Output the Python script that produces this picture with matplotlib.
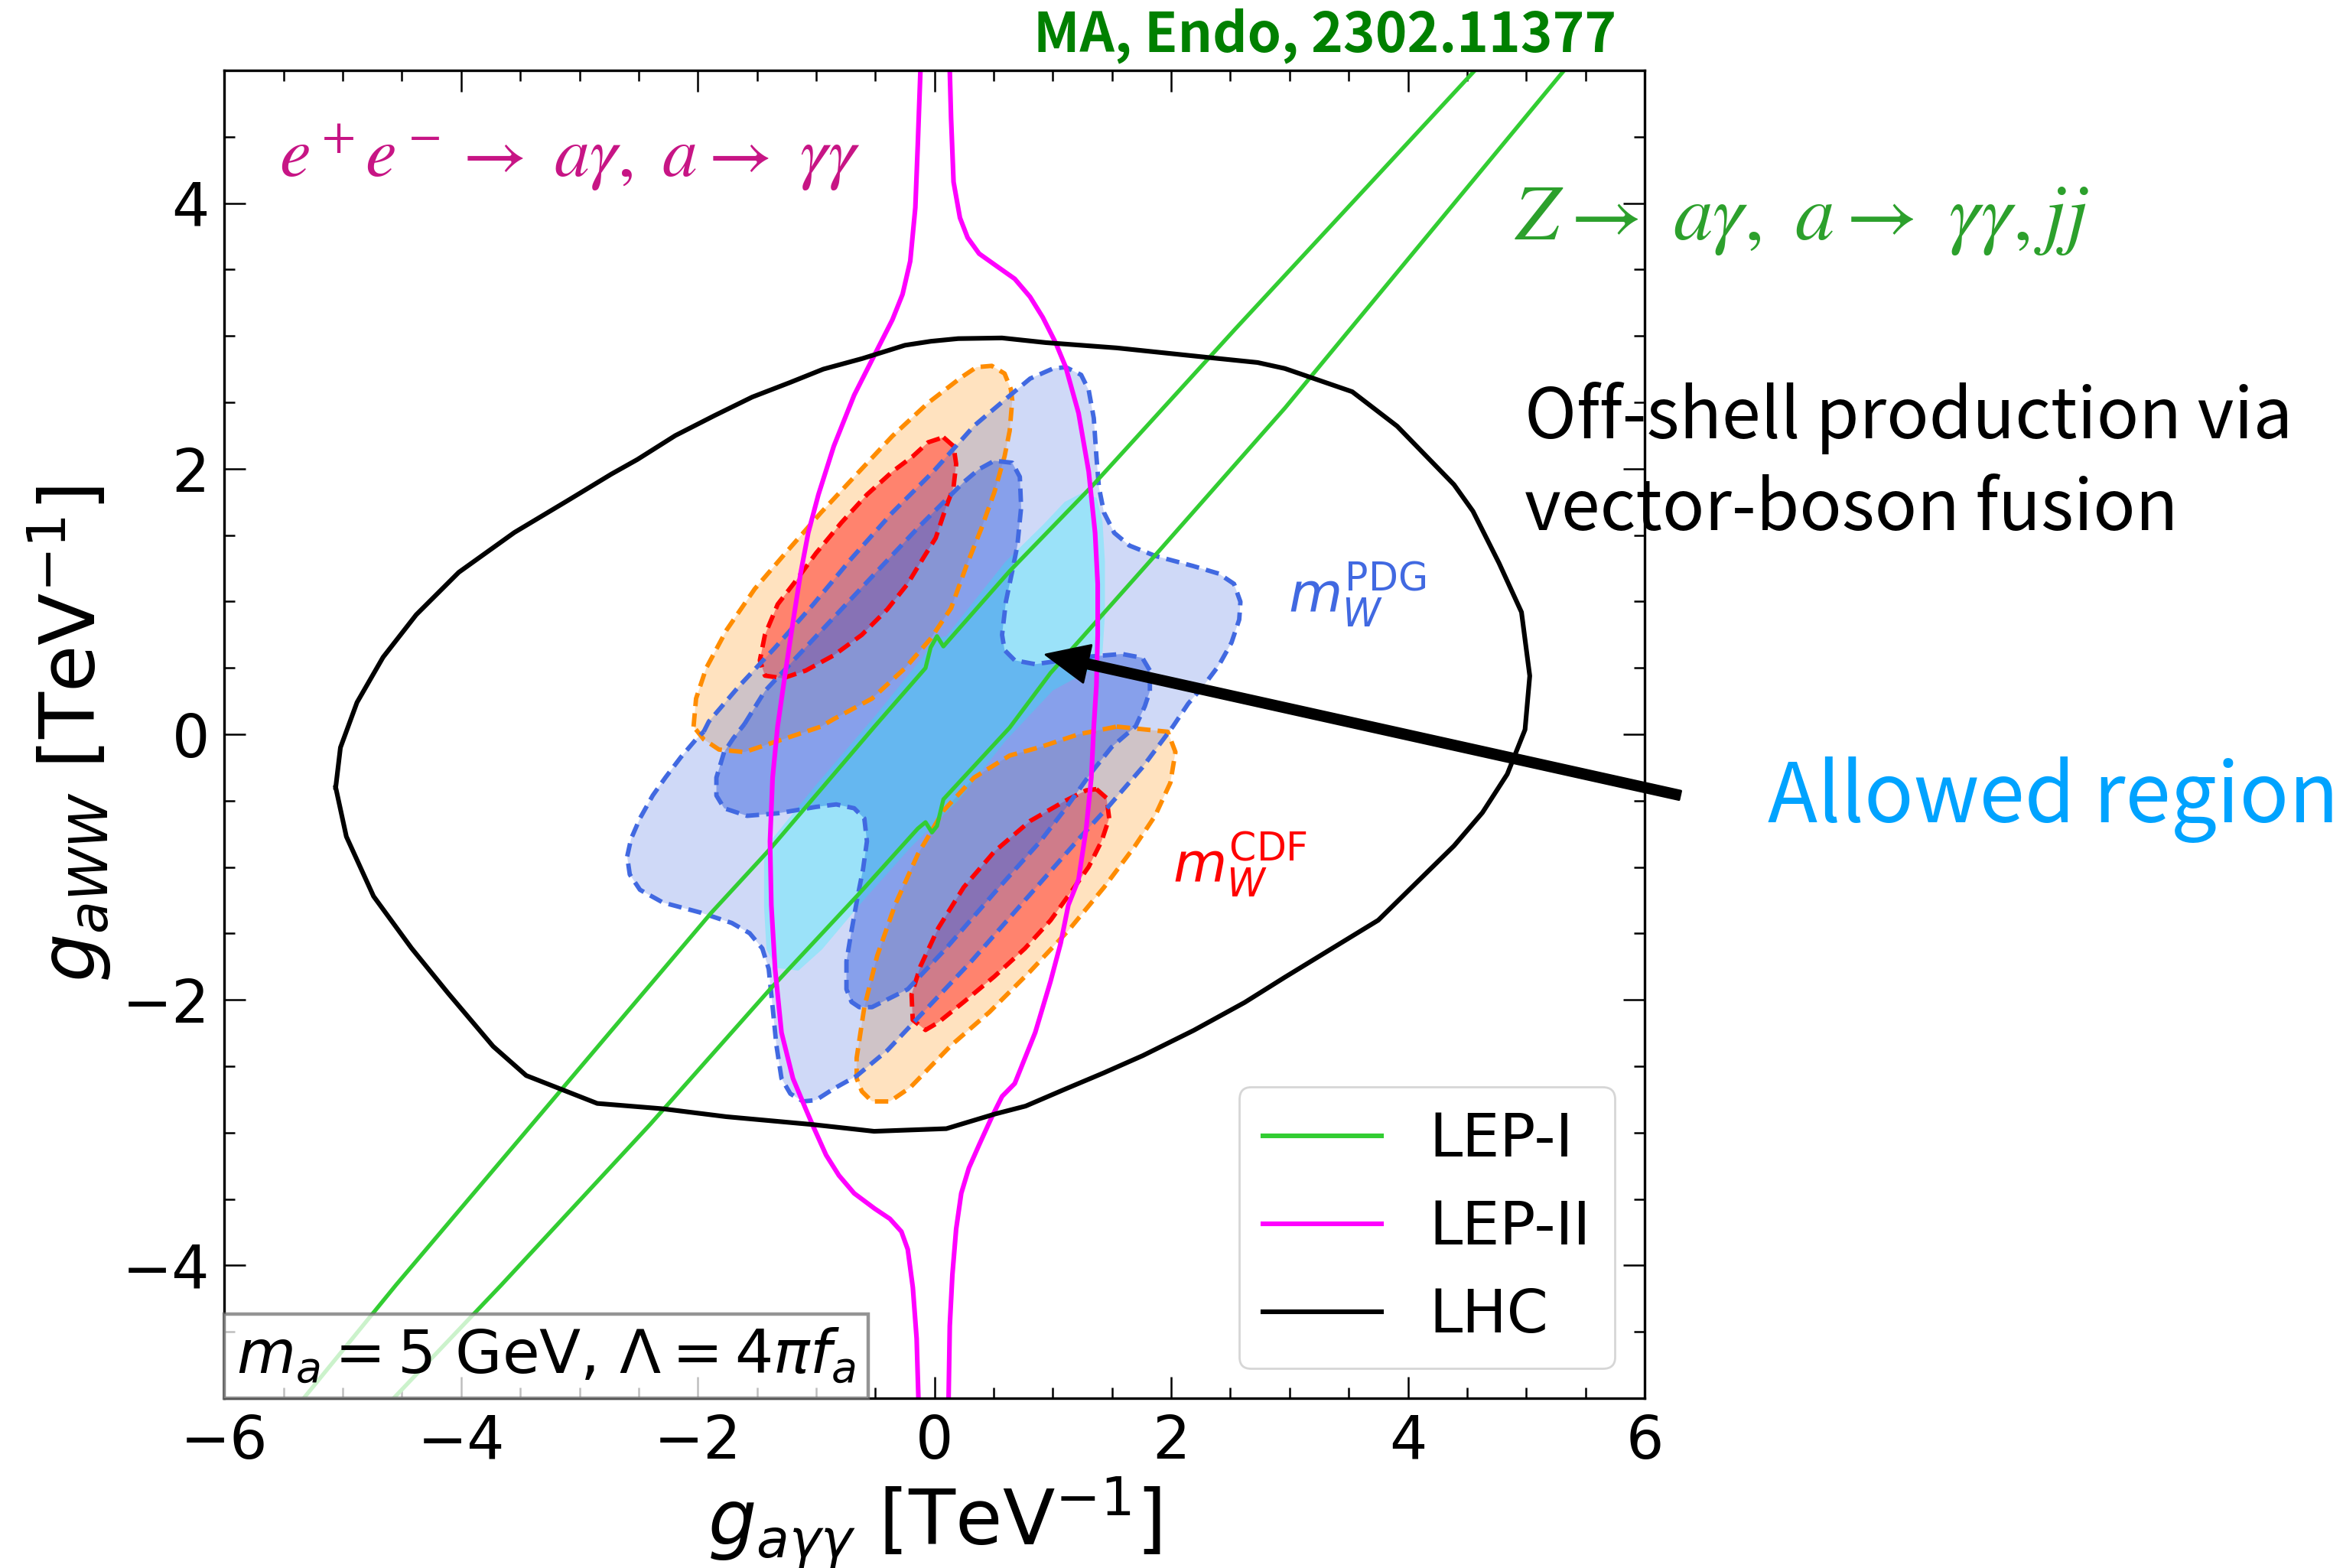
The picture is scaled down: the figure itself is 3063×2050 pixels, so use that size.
import matplotlib
matplotlib.use("Agg")
import matplotlib.pyplot as plt
from matplotlib.lines import Line2D
from matplotlib.offsetbox import AnchoredText
from matplotlib.ticker import MultipleLocator

# ----------------------------------------------------
# Contour outlines (g_agg, g_aww) in TeV^-1
# ----------------------------------------------------

# LHC bound (closed)
lhc_x = [-5.06, -5.02, -4.88, -4.66, -4.38, -4.02, -3.55, -3.10, -2.73, -2.51, -2.19, -1.86,
         -1.54, -1.22, -0.94, -0.61, -0.25, -0.03, 0.20, 0.57, 0.94, 1.54, 1.97, 2.40, 2.73,
         2.96, 3.53, 3.91, 4.39, 4.55, 4.77, 4.96, 5.03, 4.99, 4.84, 4.63, 4.39, 3.75, 2.96,
         2.62, 2.19, 1.76, 1.43, 1.11, 0.77, 0.51, 0.10, -0.51, -1.02, -1.76, -2.30, -2.85,
         -3.45, -3.73, -4.11, -4.42, -4.74, -4.97, -5.06]
lhc_y = [-0.40, -0.10, 0.24, 0.58, 0.90, 1.22, 1.52, 1.76, 1.96, 2.07, 2.25, 2.40,
         2.54, 2.65, 2.75, 2.83, 2.93, 2.96, 2.98, 2.985, 2.95, 2.91, 2.87, 2.83, 2.80,
         2.755, 2.58, 2.32, 1.88, 1.68, 1.29, 0.92, 0.44, 0.035, -0.30, -0.59, -0.84, -1.40, -1.83,
         -2.02, -2.23, -2.42, -2.55, -2.67, -2.80, -2.86, -2.97, -2.99, -2.94, -2.88, -2.82, -2.78,
         -2.57, -2.35, -1.95, -1.61, -1.22, -0.77, -0.40]

# LEP-II bound, two open branches from top to bottom
lep2_left_x = [-0.119, -0.141, -0.162, -0.205, -0.27, -0.356, -0.507, -0.679, -0.851, -0.981,
               -1.067, -1.132, -1.196, -1.261, -1.326, -1.368, -1.39, -1.379, -1.347, -1.293,
               -1.196, -1.088, -1.023, -0.916, -0.808, -0.679, -0.506, -0.377, -0.28, -0.226,
               -0.183, -0.151, -0.136]
lep2_left_y = [5.0, 4.447, 3.967, 3.564, 3.314, 3.122, 2.857, 2.554, 2.17, 1.805,
               1.517, 1.21, 0.845, 0.461, 0.058, -0.326, -0.806, -1.286, -1.767, -2.246,
               -2.592, -2.822, -2.957, -3.169, -3.322, -3.457, -3.572, -3.649, -3.745, -3.879,
               -4.167, -4.551, -5.0]
lep2_right_x = [0.129, 0.140, 0.161, 0.215, 0.280, 0.377, 0.527, 0.678, 0.807, 0.915, 1.023,
                1.109, 1.217, 1.303, 1.357, 1.379, 1.379, 1.368, 1.346, 1.325, 1.282, 1.217,
                1.131, 1.066, 0.98, 0.851, 0.678, 0.571, 0.485, 0.377, 0.291, 0.226, 0.183,
                0.151, 0.129, 0.119]
lep2_right_y = [5.0, 4.64, 4.16, 3.89, 3.74, 3.62, 3.525, 3.43, 3.295, 3.14, 2.95,
                2.765, 2.42, 1.978, 1.517, 1.133, 0.749, 0.365, 0.058, -0.326, -0.71, -1.094,
                -1.286, -1.574, -1.862, -2.246, -2.63, -2.727, -2.881, -3.092, -3.265, -3.457, -3.725,
                -4.071, -4.455, -5.0]

# LEP-I band edges
lep1_upper_x = [-5.33, -4.55, -2.726, -1.886, -1.39, -0.507, -0.076, -0.033, 0.021, 0.075,
                0.635, 1.325, 2.542, 4.566]
lep1_upper_y = [-5.0, -4.147, -2.227, -1.344, -0.864, 0.058, 0.499, 0.653, 0.739, 0.662,
                1.229, 1.863, 3.053, 5.0]
lep1_lower_x = [-4.57, -3.66, -2.403, -1.39, -0.647, -0.141, -0.076, -0.022, 0.021, 0.075,
                0.635, 0.98, 1.842, 2.962, 5.32]
lep1_lower_y = [-5.0, -4.147, -2.938, -1.92, -1.21, -0.71, -0.662, -0.739, -0.691, -0.49,
                0.05, 0.461, 1.325, 2.458, 5.0]

# m_W (PDG) preferred regions
pdg2_x = [-1.95, -1.907, -1.649, -1.347, -1.024, -0.701, -0.356, -0.011, 0.334, 0.635, 0.808,
          1.002, 1.109, 1.239, 1.303, 1.346, 1.368, 1.389, 1.432, 1.519, 1.648, 1.864, 2.187,
          2.402, 2.531, 2.585, 2.575, 2.51, 2.402, 2.273, 2.144, 2.014, 1.756, 1.476, 1.239,
          0.937, 0.614, 0.312, -0.054, -0.399, -0.658, -0.851, -1.002, -1.11, -1.218, -1.293,
          -1.336, -1.368, -1.401, -1.455, -1.562, -1.713, -1.972, -2.295, -2.489, -2.575,
          -2.597, -2.564, -2.489, -2.381, -2.274, -2.144, -2.015]
pdg2_y = [0.02, 0.096, 0.365, 0.653, 0.979, 1.325, 1.67, 1.978, 2.323, 2.55, 2.679,
          2.755, 2.765, 2.707, 2.592, 2.381, 2.093, 1.863, 1.67, 1.517, 1.421, 1.344, 1.267,
          1.21, 1.133, 0.998, 0.864, 0.691, 0.518, 0.365, 0.231, 0.058, -0.25, -0.538, -0.768,
          -1.075, -1.402, -1.709, -2.055, -2.381, -2.573, -2.669, -2.755, -2.765, -2.707, -2.592,
          -2.342, -2.055, -1.767, -1.613, -1.498, -1.421, -1.344, -1.267, -1.171, -1.056,
          -0.921, -0.787, -0.633, -0.461, -0.326, -0.173, -0.038]
pdg1_x = [-1.606, -1.433, -1.11, -0.787, -0.464, -0.14, 0.075, 0.248, 0.377, 0.506, 0.657,
          0.721, 0.732, 0.70, 0.657, 0.603, 0.571, 0.592, 0.678, 0.851, 1.10, 1.325, 1.583,
          1.756, 1.82, 1.82, 1.777, 1.70, 1.497, 1.325, 1.109, 0.894, 0.528, 0.097, -0.226,
          -0.399, -0.528, -0.636, -0.701, -0.744, -0.744, -0.701, -0.647, -0.604, -0.571,
          -0.593, -0.679, -0.83, -1.002, -1.325, -1.584, -1.778, -1.843, -1.843, -1.778, -1.70]
pdg1_y = [0.077, 0.326, 0.634, 0.941, 1.248, 1.555, 1.747, 1.90, 1.997, 2.06, 2.045,
          1.939, 1.709, 1.421, 1.229, 0.998, 0.749, 0.634, 0.557, 0.528, 0.56, 0.586, 0.605,
          0.576, 0.48, 0.326, 0.211, 0.06, -0.096, -0.288, -0.557, -0.806, -1.171, -1.613, -1.92,
          -1.997, -2.055, -2.055, -2.016, -1.92, -1.709, -1.478, -1.21, -1.017, -0.806,
          -0.634, -0.557, -0.528, -0.547, -0.595, -0.614, -0.557, -0.461, -0.326, -0.134, -0.03]

# m_W (CDF) preferred regions, two lobes each
cdf2_up_x = [-2.036, -2.015, -1.929, -1.756, -1.519, -1.261, -0.959, -0.658, -0.356, -0.054,
             0.226, 0.355, 0.484, 0.592, 0.645, 0.657, 0.635, 0.592, 0.506, 0.398, 0.269,
             0.14, -0.033, -0.248, -0.528, -0.851, -0.959, -1.347, -1.606, -1.821, -1.95]
cdf2_up_y = [0.058, 0.269, 0.499, 0.787, 1.095, 1.363, 1.67, 1.958, 2.246, 2.496,
             2.688, 2.765, 2.775, 2.717, 2.60, 2.515, 2.285, 2.093, 1.824, 1.555, 1.267,
             0.95, 0.72, 0.499, 0.269, 0.115, 0.058, -0.057, -0.134, -0.115, -0.038]
cdf2_lo_x = [1.54, 1.971, 2.036, 1.993, 1.864, 1.691, 1.433, 1.131, 0.808, 0.463, 0.14,
             -0.205, -0.377, -0.528, -0.614, -0.658, -0.658, -0.593, -0.485, -0.334, -0.14,
             0.075, 0.334, 0.635, 0.894, 1.217]
cdf2_lo_y = [0.058, 0.019, -0.134, -0.365, -0.614, -0.845, -1.152, -1.478, -1.786, -2.093, -2.343,
             -2.66, -2.765, -2.765, -2.689, -2.592, -2.438, -2.055, -1.67, -1.286, -0.902,
             -0.576, -0.326, -0.16, -0.096, 0.0]
cdf1_up_x = [0.075, 0.161, 0.183, 0.161, 0.097, 0.01, -0.097, -0.227, -0.399, -0.614, -0.851,
             -1.088, -1.282, -1.433, -1.476, -1.433, -1.325, -1.175, -1.002, -0.787, -0.571,
             -0.356, -0.184, -0.054]
cdf1_up_y = [2.237, 2.17, 2.035, 1.862, 1.709, 1.478, 1.325, 1.133, 0.941, 0.749, 0.595,
             0.48, 0.422, 0.442, 0.557, 0.749, 0.979, 1.152, 1.363, 1.594, 1.805,
             1.978, 2.093, 2.199]
cdf1_lo_x = [1.368, 1.454, 1.476, 1.411, 1.303, 1.152, 0.98, 0.764, 0.506, 0.247, 0.032,
             -0.076, -0.184, -0.194, -0.119, 0.032, 0.247, 0.506, 0.808, 1.109, 1.282]
cdf1_lo_y = [-0.413, -0.48, -0.633, -0.806, -0.998, -1.19, -1.402, -1.613, -1.824, -2.016, -2.17,
             -2.227, -2.151, -1.959, -1.747, -1.459, -1.152, -0.883, -0.653, -0.499, -0.422]

# combined allowed region
allowed_x = [1.25, 1.37, 1.42, 1.44, 1.44, 1.42, 1.35, 1.0, 0.6, 0.2, -0.2, -0.6, -0.95,
             -1.15, -1.33, -1.42, -1.44, -1.44, -1.40, -1.0, -0.5, -0.1, 0.0, 0.1, 0.6, 0.92, 1.1]
allowed_y = [1.82, 1.78, 1.60, 1.30, 0.90, 0.62, 0.50, 0.33, -0.05, -0.5, -0.85, -1.25, -1.62,
             -1.78, -1.76, -1.62, -1.30, -0.95, -0.82, -0.38, 0.14, 0.58, 0.72, 0.74, 1.30, 1.58, 1.75]

# ----------------------------------------------------
# Figure
# ----------------------------------------------------

fig = plt.figure(figsize=(15.315, 10.25), dpi=200)
ax = fig.add_axes([0.0958, 0.1083, 0.6061, 0.8468])

dash = (0, (3.0, 1.6))

# filled regions: orange first so the blue sits on top
ax.fill(cdf2_up_x, cdf2_up_y, color="darkorange", alpha=0.25, lw=0)
ax.fill(cdf2_lo_x, cdf2_lo_y, color="darkorange", alpha=0.25, lw=0)
ax.fill(cdf1_up_x, cdf1_up_y, color="red", alpha=0.42, lw=0)
ax.fill(cdf1_lo_x, cdf1_lo_y, color="red", alpha=0.42, lw=0)
ax.fill(pdg2_x, pdg2_y, color="royalblue", alpha=0.25, lw=0)
ax.fill(pdg1_x, pdg1_y, color="royalblue", alpha=0.5, lw=0)
ax.fill(allowed_x, allowed_y, color="aqua", alpha=0.25, lw=0)


def closed(xs, ys):
    return list(xs) + [xs[0]], list(ys) + [ys[0]]


for xs, ys, c in [(cdf2_up_x, cdf2_up_y, "darkorange"), (cdf2_lo_x, cdf2_lo_y, "darkorange"),
                  (cdf1_up_x, cdf1_up_y, "red"), (cdf1_lo_x, cdf1_lo_y, "red"),
                  (pdg2_x, pdg2_y, "royalblue"), (pdg1_x, pdg1_y, "royalblue")]:
    cx, cy = closed(xs, ys)
    ax.plot(cx, cy, color=c, lw=2.1, ls=dash)

# experimental bounds
ax.plot(lep1_upper_x, lep1_upper_y, color="limegreen", lw=1.9)
ax.plot(lep1_lower_x, lep1_lower_y, color="limegreen", lw=1.9)
ax.plot(lep2_left_x, lep2_left_y, color="magenta", lw=2.2)
ax.plot(lep2_right_x, lep2_right_y, color="magenta", lw=2.2)
cx, cy = closed(lhc_x, lhc_y)
ax.plot(cx, cy, color="black", lw=2.2)

ax.set_xlim(-6, 6)
ax.set_ylim(-5, 5)
ax.xaxis.set_major_locator(MultipleLocator(2))
ax.xaxis.set_minor_locator(MultipleLocator(0.5))
ax.yaxis.set_major_locator(MultipleLocator(2))
ax.yaxis.set_minor_locator(MultipleLocator(0.5))
ax.tick_params(which="both", direction="in", top=True, right=True, labelsize=28, width=0.9, pad=7)
ax.tick_params(which="major", length=10)
ax.tick_params(which="minor", length=5)
for s in ax.spines.values():
    s.set_linewidth(1.2)

ax.set_xlabel(r"$g_{a\gamma\gamma}$ [TeV$^{-1}$]", fontsize=36, labelpad=2)
ax.set_ylabel(r"$g_{aWW}$ [TeV$^{-1}$]", fontsize=36)

# process labels
ax.text(-5.54, 4.205, r"$e^+e^- \rightarrow\ a\gamma,\ a \rightarrow\ \gamma\gamma$",
        color="mediumvioletred", fontsize=33, math_fontfamily="stix", va="baseline")
ax.text(4.90, 3.73, r"$Z \rightarrow\ a\gamma,\ a \rightarrow\ \gamma\gamma, jj$",
        color="tab:green", fontsize=37, math_fontfamily="stix", va="baseline")

ax.text(2.99, 0.92, r"$m_W^{\rm PDG}$", color="royalblue", fontsize=26, va="baseline")
ax.text(2.01, -1.11, r"$m_W^{\rm CDF}$", color="red", fontsize=26, va="baseline")

# arrow to the allowed region
ax.annotate("", xy=(0.94, 0.60), xytext=(6.30, -0.46),
            arrowprops=dict(facecolor="black", edgecolor="black", width=4.3,
                            headwidth=18, headlength=20),
            annotation_clip=False, zorder=10)

fig.text(0.6507, 0.7205, "Off-shell production via", fontsize=33,
         family="Noto Sans CJK JP", va="baseline")
fig.text(0.6507, 0.7205 - 120 / 2050, "vector-boson fusion", fontsize=33,
         family="Noto Sans CJK JP", va="baseline")
fig.text(0.7545, 0.4756, "Allowed region", fontsize=38.5, color="#00a3ff",
         family="Noto Sans CJK JP", va="baseline")
fig.text(0.6898, 0.9673, "MA, Endo, 2302.11377", fontsize=25.5, color="green",
         family="Noto Sans CJK JP", weight="bold", ha="right", va="baseline")

# legend
handles = [Line2D([], [], color="limegreen", lw=2.2),
           Line2D([], [], color="magenta", lw=2.2),
           Line2D([], [], color="black", lw=2.2)]
ax.legend(handles, ["LEP-I", "LEP-II", "LHC"], loc="lower right", fontsize=28)

# benchmark box
at = AnchoredText(r"$m_a = 5$ GeV, $\Lambda = 4\pi f_a$", loc="lower left",
                  prop=dict(fontsize=28.5), frameon=True, borderpad=0, pad=0.2)
at.patch.set_facecolor("white")
at.patch.set_edgecolor("#707070")
at.patch.set_alpha(0.75)
at.patch.set_linewidth(1.6)
at.set_zorder(6)
ax.add_artist(at)

fig.savefig("out.png", dpi=200)
